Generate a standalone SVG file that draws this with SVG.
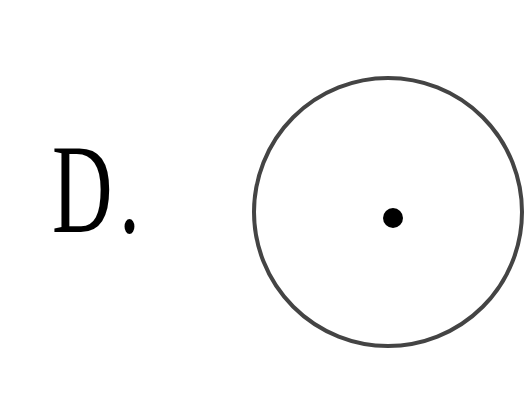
<svg xmlns="http://www.w3.org/2000/svg" width="524" height="395" viewBox="0 0 524 395">
<style>
.lbl{font-family:"Liberation Serif","Times New Roman",serif;font-size:127px;fill:#000}
</style>
<rect width="524" height="395" fill="#fff"/>
<g id="label">
<text class="lbl" transform="translate(52,232) scale(0.66,1)" letter-spacing="10">D.</text>
</g>
<g id="circle">
<circle cx="388" cy="212" r="134" fill="none" stroke="#444" stroke-width="4"/>
<circle cx="393" cy="218" r="10" fill="#000"/>
</g>
</svg>
